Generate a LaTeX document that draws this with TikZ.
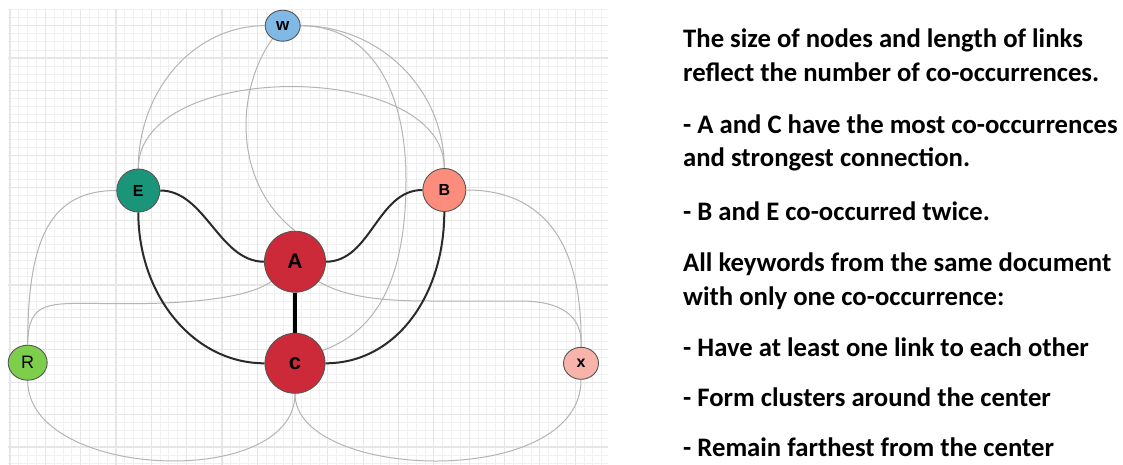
\documentclass[tikz,border=0pt]{standalone}
\usepackage{fontspec}
\setmainfont{Carlito}
\newfontfamily\labfont{Liberation Sans}
\usetikzlibrary{shapes.geometric}
\pgfdeclarelayer{bg}
\pgfdeclarelayer{edges}
\pgfsetlayers{bg,edges,main}
\definecolor{gridminor}{HTML}{F0F0F0}
\definecolor{gridmajor}{HTML}{E6E6E6}
\definecolor{nodeborder}{HTML}{555555}
\definecolor{cw}{HTML}{80B9E6}
\definecolor{ce}{HTML}{1B957A}
\definecolor{cb}{HTML}{FC8D7C}
\definecolor{ca}{HTML}{CC2A38}
\definecolor{cr}{HTML}{7DCE4B}
\definecolor{cx}{HTML}{F8B3AB}
\definecolor{linkgray}{HTML}{B4B4B4}
\definecolor{linkdark}{HTML}{2A2A2A}
\tikzset{
  gminor/.style={draw=gridminor, line width=0.9pt},
  gmajor/.style={draw=gridmajor, line width=1.2pt},
  kw/.style={circle, draw=nodeborder, line width=0.9pt, inner sep=0pt, font=\labfont\bfseries},
  kwe/.style={ellipse, draw=nodeborder, line width=0.9pt, inner sep=0pt, font=\labfont\bfseries},
  weak/.style={draw=linkgray, line width=1pt},
  strong/.style={draw=linkdark, line width=2pt},
  strongest/.style={draw=black, line width=3.5pt},
  txt/.style={anchor=base west, inner sep=0pt, font=\fontsize{26.7}{32}\selectfont\bfseries}
}
\begin{document}
\begin{tikzpicture}[x=1pt,y=-1pt]
\useasboundingbox (0,0) rectangle (1123,465);
% grid
\begin{pgfonlayer}{bg}
\fill[white] (0,0) rectangle (1123,465);
\foreach \i in {0,...,67} \draw[gminor] ({10+\i*8.83},9) -- ({10+\i*8.83},465);
\foreach \i in {0,...,56} \draw[gminor] (8,{9.5+\i*8.1}) -- (608,{9.5+\i*8.1});
\foreach \i in {0,...,16} \draw[gmajor] ({10+\i*35.32},9) -- ({10+\i*35.32},465);
\foreach \i in {0,...,13} \draw[gmajor] (8,{25.7+\i*32.4}) -- (608,{25.7+\i*32.4});
\end{pgfonlayer}
% nodes
\node[kwe, fill=cw, minimum width=35, minimum height=31, font=\labfont\bfseries\fontsize{17}{17}\selectfont] (w) at (282.7,25.7) {w};
\node[kw, fill=ce, minimum size=43, font=\labfont\bfseries\fontsize{16}{16}\selectfont] (e) at (138.3,190.5) {E};
\node[kw, fill=cb, minimum size=43, font=\labfont\bfseries\fontsize{16}{16}\selectfont] (b) at (444.3,190) {B};
\node[kw, fill=ca, minimum size=61, font=\labfont\bfseries\fontsize{21}{21}\selectfont] (a) at (295,261.7) {A};
\node[kw, fill=ca, minimum size=60, font=\labfont\bfseries\fontsize{22}{22}\selectfont] (c) at (295,363.3) {c};
\node[kwe, fill=cr, minimum width=39, minimum height=35, font=\labfont\fontsize{18}{18}\selectfont] (r) at (27.7,362.7) {R};
\node[kwe, fill=cx, minimum width=35, minimum height=32, font=\labfont\bfseries\fontsize{16}{16}\selectfont] (x) at (581,363.3) {x};
\coordinate (wc) at (406,180);
\coordinate (ra) at (100,303.5);
\coordinate (ax1) at (430,301);
\coordinate (ax2) at (520,301);
% links
\begin{pgfonlayer}{edges}
\draw[weak] (w.west) .. controls +(-70,0) and +(0,-79) .. (e.north);
\draw[weak] (w.east) .. controls +(79,0) and +(0,-79) .. (b.north);
\draw[weak] (e.north) .. controls +(0,-109) and +(0,-109) .. (b.north);
\draw[weak] (w.232) .. controls +(-35,48) and +(-65,-51) .. (a.north);
\draw[weak] (w.east) .. controls +(70,0) and +(0,-90) .. (wc) .. controls +(0,110) and +(47,-17) .. (c.25);
\draw[weak] (e.west) .. controls +(-67,0) and +(0,-105) .. (r.north);
\draw[weak] (r.north) .. controls +(0,-45) and +(-50,0) .. (ra) .. controls +(80,1.5) and +(-26,18) .. (a.220);
\draw[weak] (r.south) .. controls +(0,99) and +(0,97) .. (c.south);
\draw[weak] (c.south) .. controls +(0,87) and +(0,111) .. (x.south);
\draw[weak] (a.320) .. controls +(26.5,15.3) and +(-50,0) .. (ax1) -- (ax2) .. controls +(40,0) and +(2,-32) .. (x.north);
\draw[weak] (b.east) .. controls +(79,0) and +(2,-102) .. (x.north);
\draw[strong] (e.east) .. controls +(45,0) and +(-45,0) .. (a.west);
\draw[strong] (b.west) .. controls +(-45,0) and +(45,0) .. (a.east);
\draw[strong] (e.south) .. controls +(0,83) and +(-71,0) .. (c.west);
\draw[strong] (b.south) .. controls +(0,83) and +(71,0) .. (c.east);
\draw[strongest] (a) -- (c);
\end{pgfonlayer}
% text
\node[txt] (t1) at (683,47.3) {The size of nodes and length of links};
\node[txt] (t2) at (683,81.7) {reflect the number of co-occurrences.};
\node[txt] (t3) at (683,133.3) {- A and C have the most co-occurrences};
\node[txt] (t4) at (683,166.7) {and strongest connection.};
\node[txt] (t5) at (683,220) {- B and E co-occurred twice.};
\node[txt] (t6) at (683,271.7) {All keywords from the same document};
\node[txt] (t7) at (683,305) {with only one co-occurrence:};
\node[txt] (t8) at (683,356.7) {- Have at least one link to each other};
\node[txt] (t9) at (683,406.7) {- Form clusters around the center};
\node[txt] (t10) at (683,456.7) {- Remain farthest from the center};
\end{tikzpicture}
\end{document}
